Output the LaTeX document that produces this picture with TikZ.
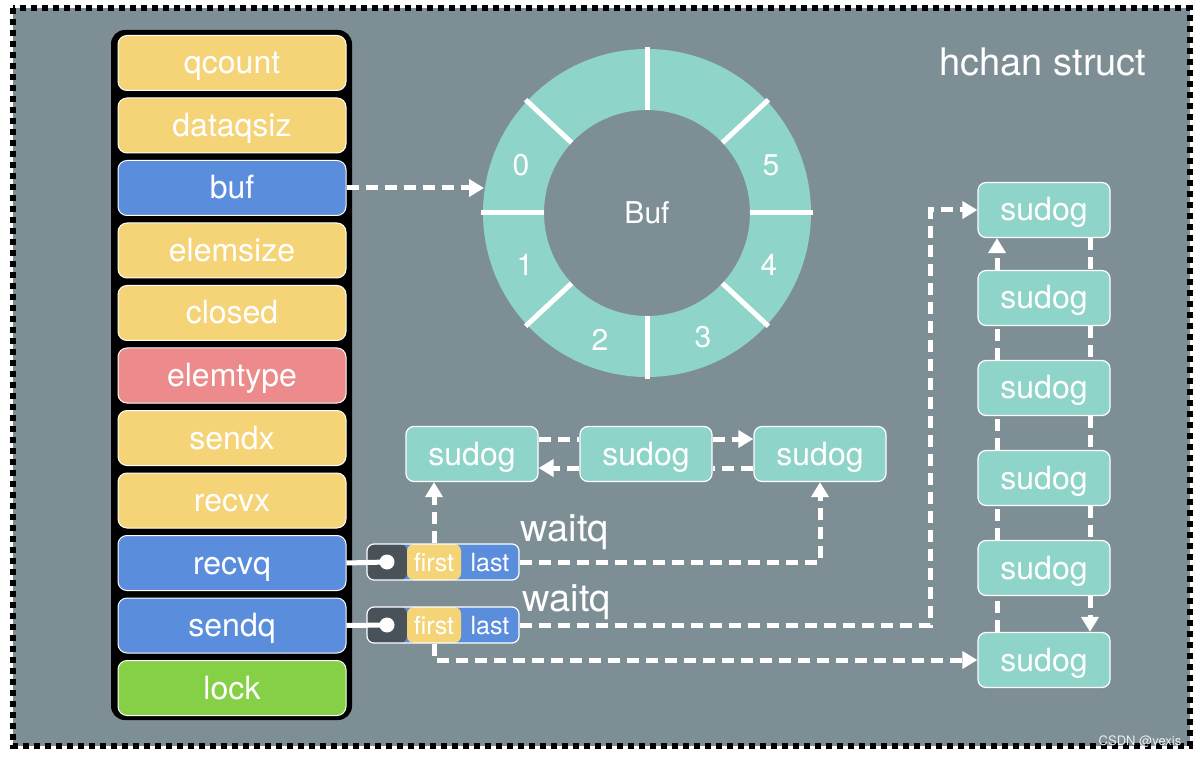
\documentclass[tikz,border=0pt]{standalone}
\usepackage{fontspec}
\setmainfont{TeX Gyre Heros}
\usetikzlibrary{arrows.meta,calc}

\definecolor{bggray}{RGB}{126,142,149}
\definecolor{fyellow}{RGB}{245,212,120}
\definecolor{fblue}{RGB}{90,142,220}
\definecolor{fpink}{RGB}{236,138,140}
\definecolor{fgreen}{RGB}{134,208,72}
\definecolor{mint}{RGB}{142,212,200}
\definecolor{slotdark}{RGB}{72,82,88}

\tikzset{
  field/.style={draw=white, line width=1pt, rounded corners=9pt, minimum width=228pt, minimum height=55pt, inner sep=0pt, text height=22pt, text depth=0pt, text=white, font=\fontsize{32}{36}\selectfont},
  sudog/.style={draw=white, line width=1.2pt, fill=mint, rounded corners=8pt, minimum width=132pt, minimum height=55pt, inner sep=0pt, text height=22pt, text depth=0pt, text=white, font=\fontsize{32}{36}\selectfont},
  waitq/.style={draw=white, line width=1.2pt, fill=fblue, rounded corners=7pt, minimum width=152pt, minimum height=36pt, inner sep=0pt,
    path picture={
      \fill[slotdark] (path picture bounding box.south west) rectangle ([xshift=40pt]path picture bounding box.north west);
      \fill[fyellow] ([xshift=40pt]path picture bounding box.south west) rectangle ([xshift=94pt]path picture bounding box.north west);
    }},
  qtext/.style={text=white, inner sep=0pt, text height=18pt, text depth=0pt, font=\fontsize{25}{28}\selectfont},
  label/.style={text=white, inner sep=0pt, text height=27pt, text depth=0pt, font=\fontsize{38}{42}\selectfont},
  digit/.style={text=white, inner sep=0pt, text height=21pt, text depth=0pt, font=\fontsize{30}{34}\selectfont},
  link/.style={draw=white, line width=5pt, dash pattern=on 12pt off 7pt},
  arr/.style={link, -{Triangle[width=17pt,length=15pt]}},
}

\begin{document}
\begin{tikzpicture}[x=1pt,y=-1pt]
    \useasboundingbox (0,0) rectangle (1200,759);
    \fill[white] (0,0) rectangle (1200,759);
    \fill[bggray] (13,8) rectangle (1190,746);
    \draw[black, line width=6pt, dash pattern=on 6pt off 5pt] (13,8) rectangle (1190,746);

    \node[label] (title) at (1043,62) {hchan struct};

    % the hchan fields
    \fill[black, rounded corners=14pt] (111,30) rectangle (352,720);
    \foreach \name/\col [count=\i from 0] in {qcount/fyellow, dataqsiz/fyellow, buf/fblue, elemsize/fyellow, closed/fyellow, elemtype/fpink, sendx/fyellow, recvx/fyellow, recvq/fblue, sendq/fblue, lock/fgreen}
        \node[field, fill=\col] (\name) at (232,63+62.5*\i) {\name};

    % ring buffer
    \coordinate (ring) at (647,213);
    \fill[mint, even odd rule] (ring) circle (164pt) (ring) circle (103pt);
    \foreach \a in {0,43,90,137,180,223,270,317}
        \draw[white, line width=5pt] ($(ring)+(\a:103pt)$) -- ($(ring)+(\a:166pt)$);
    \node[digit] (bufname) at (ring) {Buf};
    \node[digit] (d0) at (521,165) {0};
    \node[digit] (d1) at (525,265) {1};
    \node[digit] (d2) at (600,340) {2};
    \node[digit] (d3) at (703,337) {3};
    \node[digit] (d4) at (769,265) {4};
    \node[digit] (d5) at (771,165) {5};
    \coordinate (ringin) at (484,188);
    \draw[arr] (buf.east) -- (ringin);

    % recvq waiting list
    \node[sudog] (s1) at (472,454) {sudog};
    \node[sudog] (s2) at (646,454) {sudog};
    \node[sudog] (s3) at (820,454) {sudog};
    \draw[link] ([yshift=15pt]s1.east) -- ([yshift=15pt]s2.west);
    \draw[arr] ([yshift=15pt]s2.east) -- ([yshift=15pt]s3.west);
    \draw[link] ([yshift=-14pt]s3.west) -- ([yshift=-14pt]s2.east);
    \draw[arr] ([yshift=-14pt]s2.west) -- ([yshift=-14pt]s1.east);

    % sendq waiting list
    \foreach \y [count=\i] in {210,298,388,478,568,660}
        \node[sudog] (r\i) at (1044,\y) {sudog};
    \foreach \a/\b in {6/5,5/4,4/3,3/2}
        \draw[link] ([xshift=-47pt]r\a.north) -- ([xshift=-47pt]r\b.south);
    \draw[arr] ([xshift=-47pt]r2.north) -- ([xshift=-47pt]r1.south);
    \foreach \a/\b in {1/2,2/3,3/4,4/5}
        \draw[link] ([xshift=46pt]r\a.south) -- ([xshift=46pt]r\b.north);
    \draw[arr] ([xshift=46pt]r5.south) -- ([xshift=46pt]r6.north);

    % waitq heads
    \node[waitq] (rq) at (443,562) {};
    \node[waitq] (sq) at (443,625) {};
    \node[qtext] (rfirst) at (434,562) {first};
    \node[qtext] (rlast) at (490,562) {last};
    \node[qtext] (sfirst) at (434,625) {first};
    \node[qtext] (slast) at (490,625) {last};
    \draw[white, line width=5pt] (recvq.east) -- (387,562) node[circle, fill=white, inner sep=0pt, minimum size=15pt] (rdot) {};
    \draw[white, line width=5pt] (sendq.east) -- (387,625) node[circle, fill=white, inner sep=0pt, minimum size=15pt] (sdot) {};
    \node[label] (rwait) at (565,528) {waitq};
    \node[label] (swait) at (567,598) {waitq};

    \draw[arr] (rfirst |- rq.north) -- (rfirst |- s1.south);
    \draw[arr] (rq.east) -| (s3.south);
    \draw[arr] (sq.east) -| ([xshift=-47pt]r1.west) -- (r1.west);
    \draw[arr] (sfirst |- sq.south) |- (r6.west);

    \node[text=white!85!bggray, inner sep=0pt, font=\fontsize{13}{15}\selectfont] (mark) at (1140,742) {CSDN @yexis};
\end{tikzpicture}
\end{document}
